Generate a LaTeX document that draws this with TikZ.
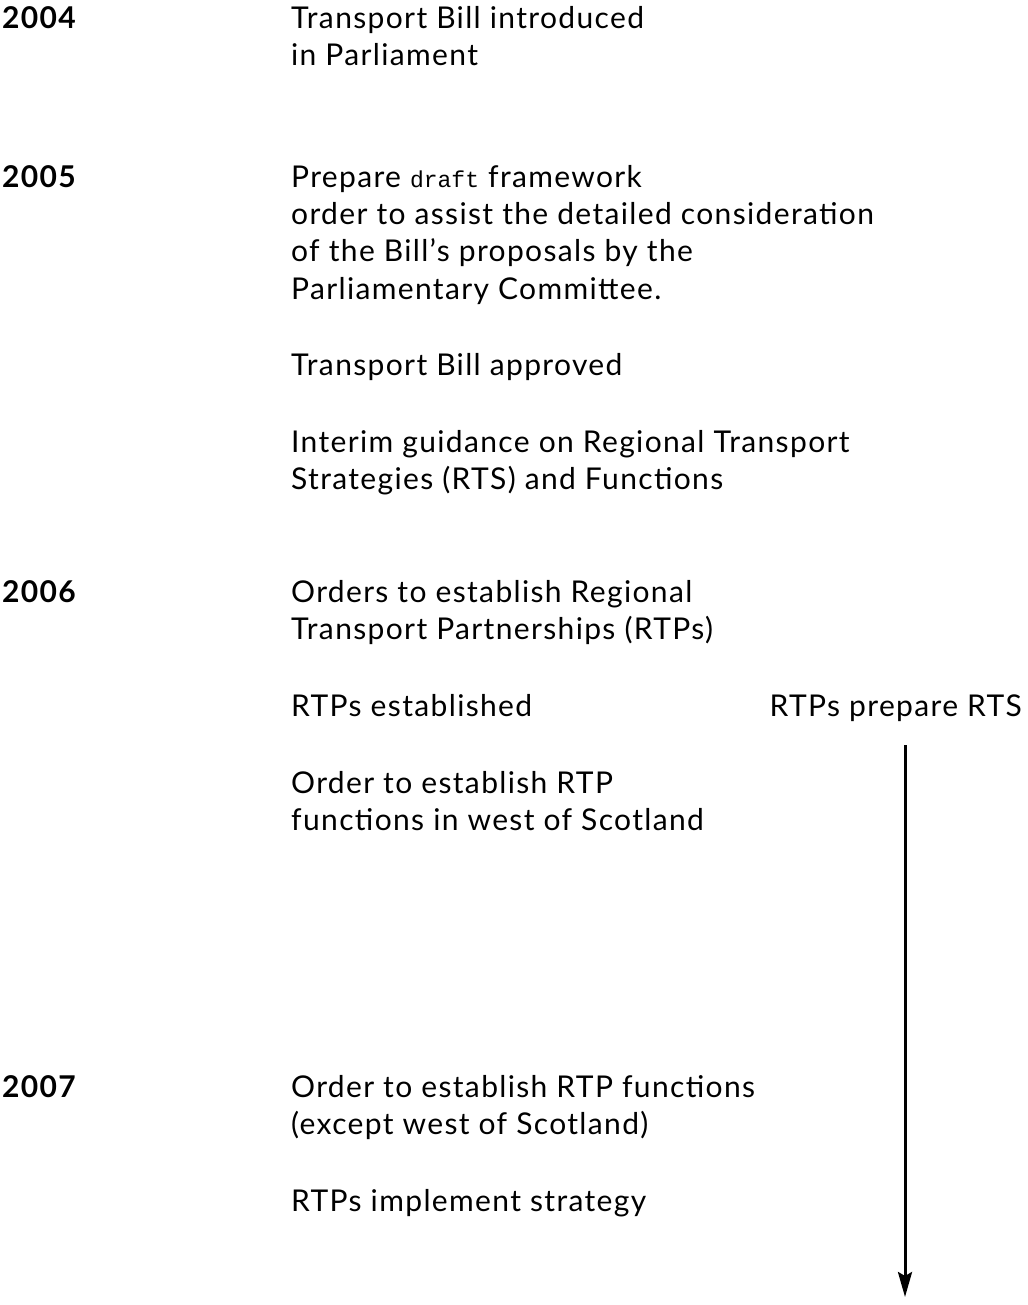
\documentclass[tikz,border=0pt]{standalone}
\usepackage{fontspec}
\setmainfont{Lato}[LetterSpace=4.5]
\newfontfamily\draftfont{Liberation Mono}
\usetikzlibrary{arrows.meta}
\begin{document}
\begin{tikzpicture}[x=1pt,y=1pt,
  body/.style={anchor=base west,inner sep=0pt,font=\fontsize{30}{37}\selectfont},
  year/.style={anchor=base west,inner sep=0pt,font=\fontsize{30}{37}\selectfont\bfseries},
  flow/.style={line width=3pt,-{Stealth[length=25pt,width=14pt,inset=4pt]}}]
\useasboundingbox (0,0) rectangle (1027,-1305);
\def\tx{291}
\node[year] (y4) at (2,-29) {2004};
\node[body] (a1) at (\tx,-29) {Transport Bill introduced};
\node[body] (a2) at (\tx,-66) {in Parliament};
\node[year] (y5) at (2,-188) {2005};
\node[body] (b1) at (\tx,-188) {Prepare {\draftfont\fontsize{23}{37}\selectfont draft} framework};
\node[body] (b2) at (\tx,-225) {order to assist the detailed consideration};
\node[body] (b3) at (\tx,-262) {of the Bill’s proposals by the};
\node[body] (b4) at (\tx,-299) {Parliamentary Committee.};
\node[body] (c1) at (\tx,-375) {Transport Bill approved};
\node[body] (d1) at (\tx,-452) {Interim guidance on Regional Transport};
\node[body] (d2) at (\tx,-489) {Strategies (RTS) and Functions};
\node[year] (y6) at (2,-602) {2006};
\node[body] (e1) at (\tx,-602) {Orders to establish Regional};
\node[body] (e2) at (\tx,-639) {Transport Partnerships (RTPs)};
\node[body] (f1) at (\tx,-716) {RTPs established};
\node[body,anchor=base east] (g1) at (1022,-716) {RTPs prepare RTS};
\node[body] (h1) at (\tx,-793) {Order to establish RTP};
\node[body] (h2) at (\tx,-830) {functions in west of Scotland};
\node[year] (y7) at (2,-1097) {2007};
\node[body] (i1) at (\tx,-1097) {Order to establish RTP functions};
\node[body] (i2) at (\tx,-1134) {(except west of Scotland)};
\node[body] (j1) at (\tx,-1211) {RTPs implement strategy};
\coordinate (top) at (905,-745);
\coordinate (bot) at (905,-1297);
\draw[flow] (top) -- (bot);
\end{tikzpicture}
\end{document}
